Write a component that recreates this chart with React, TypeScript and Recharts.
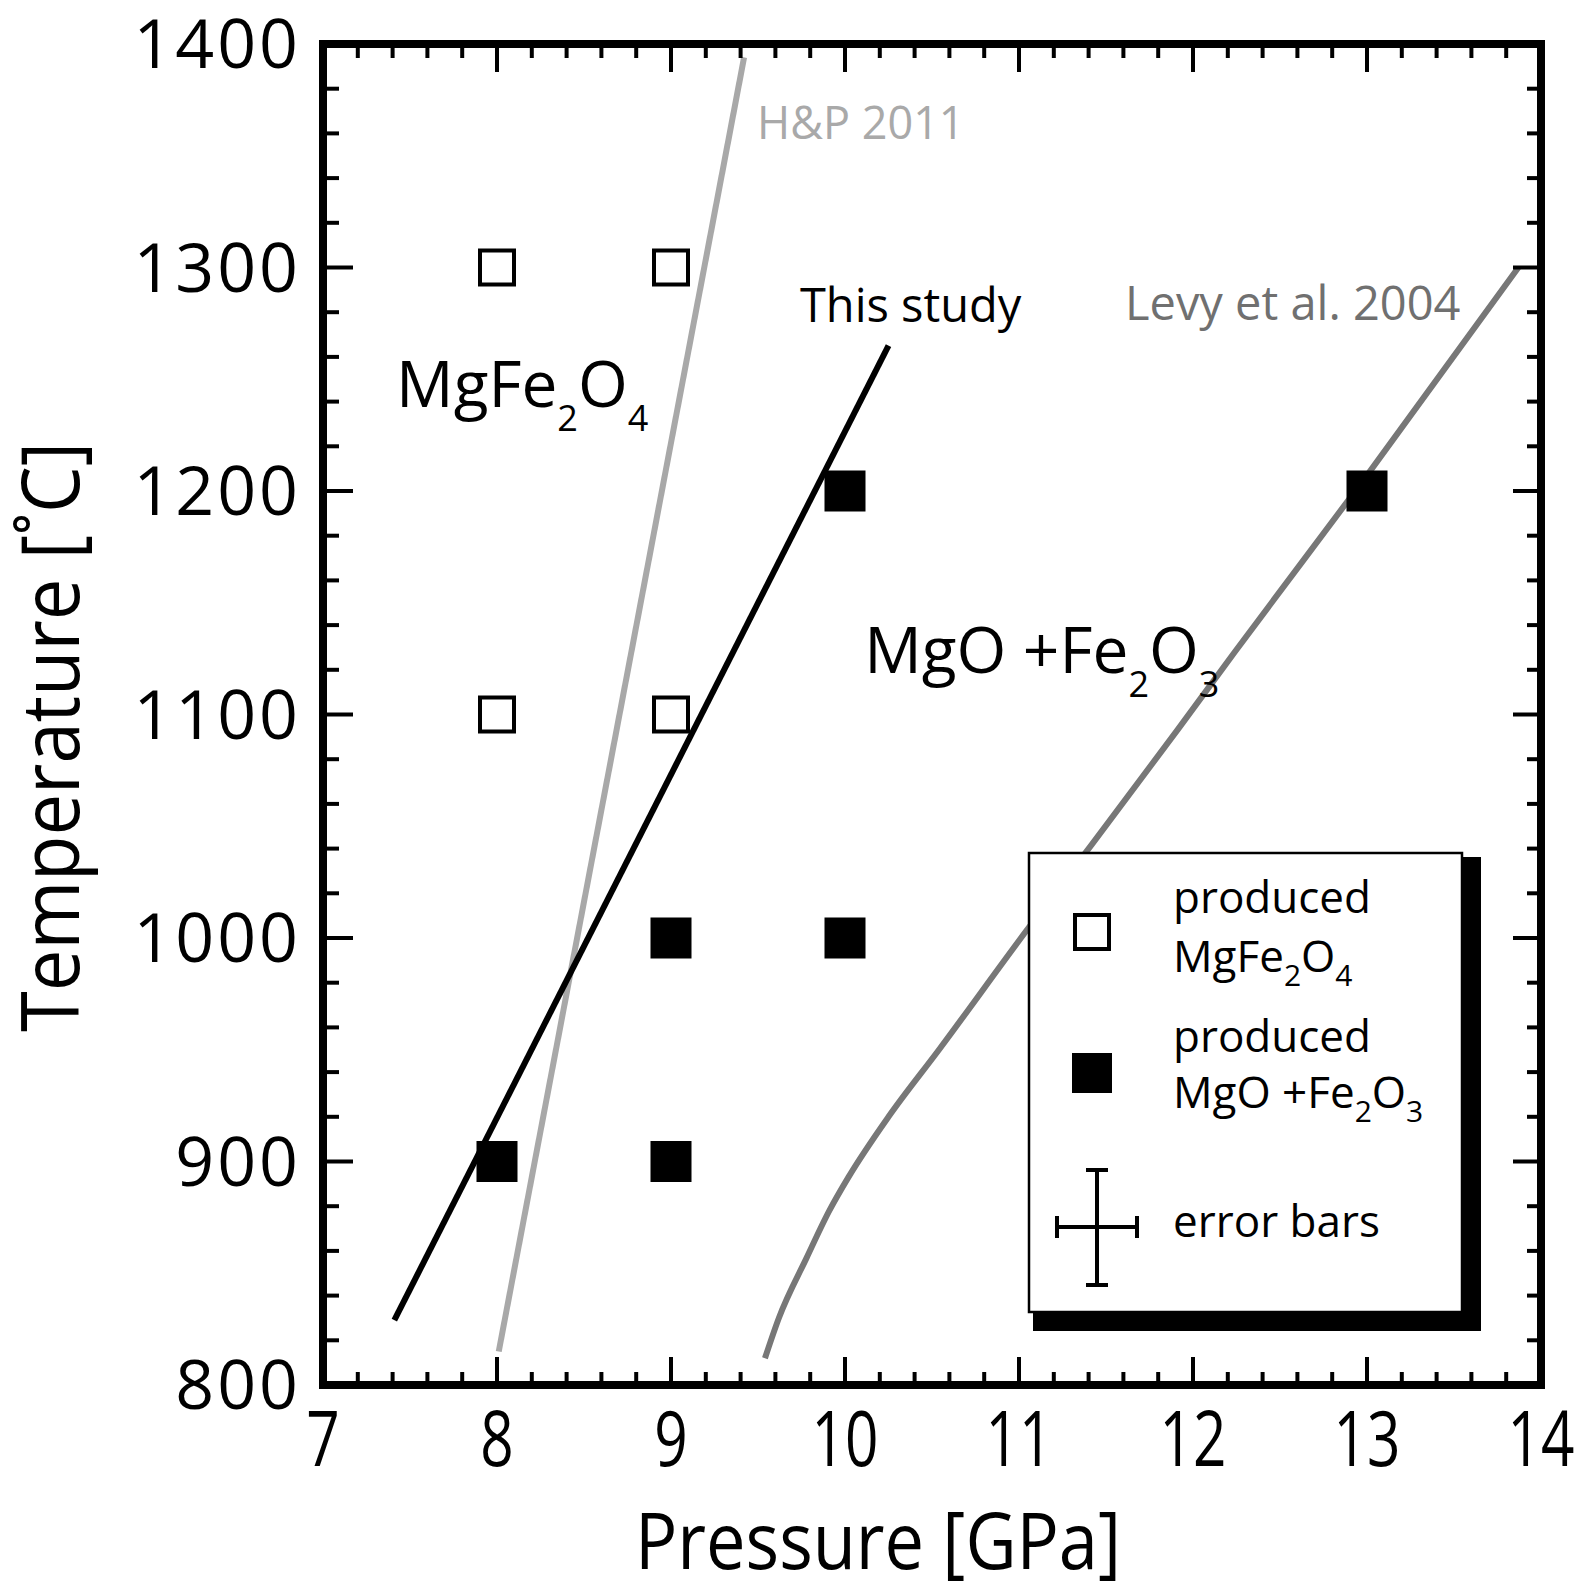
import React from 'react';
import { ComposedChart, XAxis, YAxis, Scatter, Line, ReferenceArea, ReferenceDot, Legend } from 'recharts';

const FONT = "'Open Sans', 'Noto Sans', sans-serif";

const xMajorTicks = [7, 8, 9, 10, 11, 12, 13, 14];
const xMinorTicks = [7.2, 7.4, 7.6, 7.8, 8.2, 8.4, 8.6, 8.8, 9.2, 9.4, 9.6, 9.8, 10.2, 10.4, 10.6, 10.8, 11.2, 11.4, 11.6, 11.8, 12.2, 12.4, 12.6, 12.8, 13.2, 13.4, 13.6, 13.8];
const yMajorTicks = [800, 900, 1000, 1100, 1200, 1300, 1400];
const yMinorTicks = [820, 840, 860, 880, 920, 940, 960, 980, 1020, 1040, 1060, 1080, 1120, 1140, 1160, 1180, 1220, 1240, 1260, 1280, 1320, 1340, 1360, 1380];

const mgfe2o4Points = [
  { p: 8, t: 1300 },
  { p: 9, t: 1300 },
  { p: 8, t: 1100 },
  { p: 9, t: 1100 },
];
const oxidePoints = [
  { p: 10, t: 1200 },
  { p: 13, t: 1200 },
  { p: 9, t: 1000 },
  { p: 10, t: 1000 },
  { p: 8, t: 900 },
  { p: 9, t: 900 },
];
const thisStudyLine = [
  { p: 7.41, t: 829 },
  { p: 10.25, t: 1265 },
];
const hp2011Line = [
  { p: 8.01, t: 815 },
  { p: 9.42, t: 1394 },
];
const levy2004Line = [
  { p: 9.54, t: 812 },
  { p: 9.62, t: 830 },
  { p: 9.78, t: 857 },
  { p: 9.91, t: 878 },
  { p: 10.02, t: 893 },
  { p: 10.25, t: 920 },
  { p: 10.54, t: 950 },
  { p: 11.04, t: 1003 },
  { p: 11.42, t: 1042 },
  { p: 11.91, t: 1093 },
  { p: 12.24, t: 1128 },
  { p: 13.0, t: 1207 },
  { p: 13.87, t: 1300 },
];

const xAllTicks = [...xMajorTicks, ...xMinorTicks].sort((a, b) => a - b);
const yAllTicks = [...yMajorTicks, ...yMinorTicks].sort((a, b) => a - b);

const W = 1594;
const H = 1585;
const MARGIN = { left: 322, right: 52, top: 43, bottom: 199 };

const BottomTick = (props: any) => {
  const { x, y, payload } = props;
  const v = payload.value;
  const major = xMajorTicks.includes(v);
  return (
    <g>
      <line x1={x} x2={x} y1={y} y2={y - (major ? 28 : 13)} stroke="#000" strokeWidth={4} />
      {major && (
        <text
          transform={`translate(${x},${y + 81}) scale(0.76,1)`}
          textAnchor="middle"
          fontSize={77}
          fontFamily={FONT}
          fill="#000"
        >
          {v}
        </text>
      )}
    </g>
  );
};

const TopTick = (props: any) => {
  const { x, y, payload } = props;
  const major = xMajorTicks.includes(payload.value);
  return <line x1={x} x2={x} y1={y} y2={y + (major ? 28 : 14)} stroke="#000" strokeWidth={4} />;
};

const LeftTick = (props: any) => {
  const { x, y, payload } = props;
  const v = payload.value;
  const major = yMajorTicks.includes(v);
  return (
    <g>
      <line x1={x} x2={x + (major ? 30 : 16)} y1={y} y2={y} stroke="#000" strokeWidth={4} />
      {major && (
        <text x={x - 22} y={y + 24} textAnchor="end" fontSize={68} letterSpacing={3} fontFamily={FONT} fill="#000">
          {v}
        </text>
      )}
    </g>
  );
};

const RightTick = (props: any) => {
  const { x, y, payload } = props;
  const major = yMajorTicks.includes(payload.value);
  return <line x1={x} x2={x - (major ? 28 : 14)} y1={y} y2={y} stroke="#000" strokeWidth={4} />;
};

const OpenSquare = (props: any) => {
  const { cx, cy } = props;
  return <rect x={cx - 17} y={cy - 17} width={34} height={34} fill="#fff" stroke="#000" strokeWidth={4} />;
};

const FilledSquare = (props: any) => {
  const { cx, cy } = props;
  return <rect x={cx - 20.5} y={cy - 20.5} width={41} height={41} fill="#000" />;
};

const textAt = (render: (x: number, y: number) => React.ReactElement) => (props: any) =>
  render(props.cx, props.cy);

const LegendBox = () => (
  <div style={{ width: 435, height: 461, position: 'relative' }}>
    <svg width={460} height={485} style={{ overflow: 'visible', position: 'absolute', left: 0, top: 0 }}>
      <rect x={435} y={5} width={18} height={474} fill="#000" />
      <rect x={5} y={461} width={448} height={18} fill="#000" />
      <rect x={1} y={1} width={433} height={459} fill="#fff" stroke="#000" strokeWidth={2.5} />
      <rect x={47} y={63} width={34} height={34} fill="#fff" stroke="#000" strokeWidth={4} />
      <rect x={44} y={201} width={40} height={40} fill="#000" />
      <g stroke="#000" strokeWidth={4}>
        <line x1={69} x2={69} y1={318} y2={433} />
        <line x1={58} x2={80} y1={318} y2={318} />
        <line x1={58} x2={80} y1={433} y2={433} />
        <line x1={29} x2={109} y1={375} y2={375} />
        <line x1={29} x2={29} y1={364} y2={386} />
        <line x1={109} x2={109} y1={364} y2={386} />
      </g>
      <g fontFamily={FONT} fontSize={44} fill="#000">
        <text x={145} y={61}>produced</text>
        <text x={145} y={120}>
          MgFe<tspan dy={14} fontSize={30}>2</tspan>
          <tspan dy={-14}>O</tspan>
          <tspan dy={14} fontSize={30}>4</tspan>
        </text>
        <text x={145} y={200}>produced</text>
        <text x={145} y={256}>
          MgO +Fe<tspan dy={14} fontSize={30}>2</tspan>
          <tspan dy={-14}>O</tspan>
          <tspan dy={14} fontSize={30}>3</tspan>
        </text>
        <text x={145} y={385}>error bars</text>
      </g>
    </svg>
  </div>
);

export default function App() {
  return (
    <div style={{ position: 'fixed', left: 0, top: 0, width: W, height: H, background: '#fff' }}>
      <ComposedChart width={W} height={H} margin={MARGIN}>
        <XAxis
          xAxisId={0}
          orientation="bottom"
          type="number"
          dataKey="p"
          domain={[7, 14]}
          ticks={xAllTicks}
          interval={0}
          height={1}
          axisLine={false}
          tickLine={false}
          tickSize={0}
          tickMargin={0}
          tick={BottomTick}
          allowDataOverflow
          label={(props: any) => {
            const vb = props.viewBox;
            return (
              <text
                x={vb.x + 555}
                y={vb.y + 184}
                textAnchor="middle"
                fontSize={78}
                fontFamily={FONT}
                textLength={486}
                lengthAdjust="spacingAndGlyphs"
                fill="#000"
              >
                Pressure [GPa]
              </text>
            );
          }}
        />
        <XAxis
          xAxisId="top"
          orientation="top"
          type="number"
          dataKey="p"
          domain={[7, 14]}
          ticks={xAllTicks}
          interval={0}
          height={1}
          axisLine={false}
          tickLine={false}
          tickSize={0}
          tickMargin={0}
          tick={TopTick}
          allowDataOverflow
        />
        <YAxis
          yAxisId={0}
          orientation="left"
          type="number"
          dataKey="t"
          domain={[800, 1400]}
          ticks={yAllTicks}
          interval={0}
          width={1}
          axisLine={false}
          tickLine={false}
          tickSize={0}
          tickMargin={0}
          tick={LeftTick}
          allowDataOverflow
          label={(props: any) => {
            const vb = props.viewBox;
            return (
              <text
                transform={`translate(${vb.x - 243},${vb.y + 693}) rotate(-90)`}
                textAnchor="middle"
                fontSize={80}
                fontFamily={FONT}
                textLength={590}
                lengthAdjust="spacingAndGlyphs"
                fill="#000"
              >
                Temperature [˚C]
              </text>
            );
          }}
        />
        <YAxis
          yAxisId="right"
          orientation="right"
          type="number"
          dataKey="t"
          domain={[800, 1400]}
          ticks={yAllTicks}
          interval={0}
          width={1}
          axisLine={false}
          tickLine={false}
          tickSize={0}
          tickMargin={0}
          tick={RightTick}
          allowDataOverflow
        />
        <ReferenceArea x1={7} x2={14} y1={800} y2={1400} fill="none" fillOpacity={0} stroke="#000" strokeWidth={8} />
        <Line data={hp2011Line} dataKey="t" type="linear" stroke="#a8a8a8" strokeWidth={6} dot={false} activeDot={false} isAnimationActive={false} />
        <Line data={thisStudyLine} dataKey="t" type="linear" stroke="#000" strokeWidth={6} dot={false} activeDot={false} isAnimationActive={false} />
        <Line data={levy2004Line} dataKey="t" type="monotone" stroke="#777" strokeWidth={6} dot={false} activeDot={false} isAnimationActive={false} />
        <Scatter data={mgfe2o4Points} dataKey="t" shape={OpenSquare} isAnimationActive={false} />
        <Scatter data={oxidePoints} dataKey="t" shape={FilledSquare} isAnimationActive={false} />
        <Line xAxisId="top" yAxisId="right" data={hp2011Line} dataKey="t" stroke="none" dot={false} activeDot={false} legendType="none" isAnimationActive={false} />
        <ReferenceDot
          x={9.494}
          y={1357.5}
          r={0}
          shape={textAt((x, y) => (
            <text x={x} y={y} fontSize={45} fontFamily={FONT} fill="#a9a9a9">H&amp;P 2011</text>
          ))}
        />
        <ReferenceDot
          x={9.741}
          y={1275.6}
          r={0}
          shape={textAt((x, y) => (
            <text x={x} y={y} fontSize={47} fontFamily={FONT} fill="#000">This study</text>
          ))}
        />
        <ReferenceDot
          x={11.609}
          y={1276.5}
          r={0}
          shape={textAt((x, y) => (
            <text x={x} y={y} fontSize={47} fontFamily={FONT} fill="#707070">Levy et al. 2004</text>
          ))}
        />
        <ReferenceDot
          x={7.42}
          y={1237.6}
          r={0}
          shape={textAt((x, y) => (
            <text x={x} y={y} fontSize={64} fontFamily={FONT} fill="#000">
              MgFe<tspan dy={24} fontSize={36}>2</tspan>
              <tspan dy={-24}>O</tspan>
              <tspan dy={24} fontSize={36}>4</tspan>
            </text>
          ))}
        />
        <ReferenceDot
          x={10.11}
          y={1118.6}
          r={0}
          shape={textAt((x, y) => (
            <text x={x} y={y} fontSize={64} fontFamily={FONT} fill="#000">
              MgO +Fe<tspan dy={24} fontSize={36}>2</tspan>
              <tspan dy={-24}>O</tspan>
              <tspan dy={24} fontSize={36}>3</tspan>
            </text>
          ))}
        />
        <Legend
          layout="vertical"
          align="center"
          verticalAlign="middle"
          wrapperStyle={{ left: 1028, top: 852, width: 435, height: 461 }}
          content={LegendBox}
        />
      </ComposedChart>
    </div>
  );
}
